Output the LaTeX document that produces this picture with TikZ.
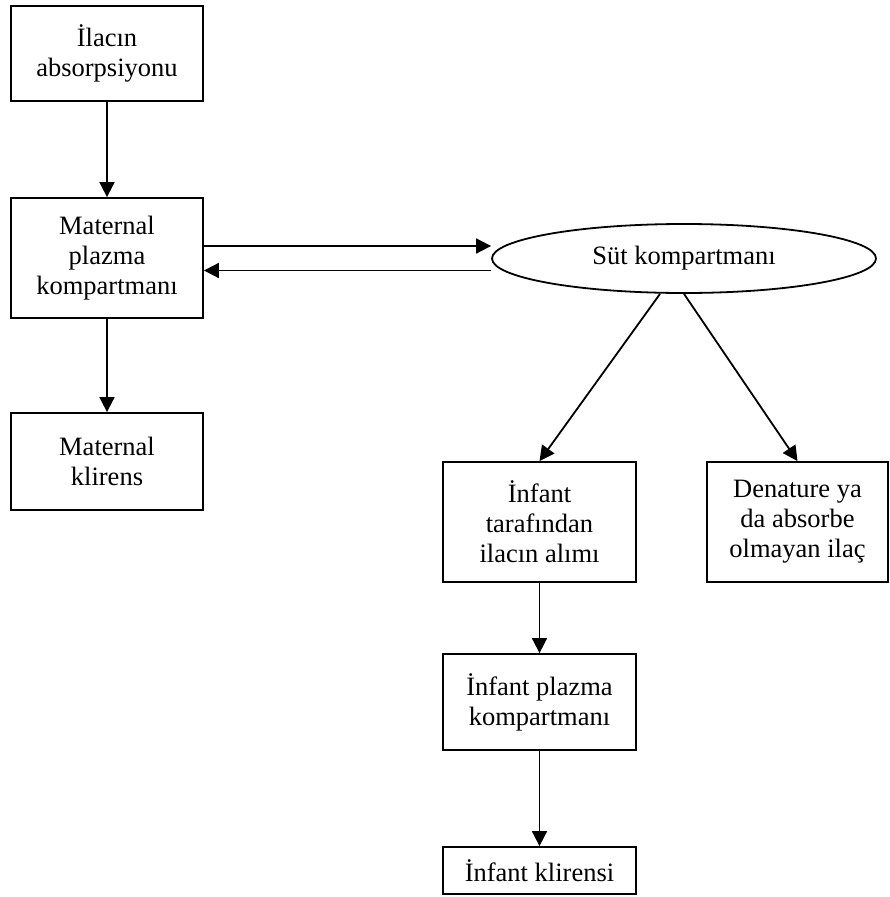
\documentclass[tikz,border=0pt]{standalone}
\usepackage{fontspec}
\setmainfont{Liberation Serif}
\usetikzlibrary{shapes.geometric,arrows.meta,calc}
\tikzset{
  boxnode/.style={draw, line width=1.8pt, rectangle, inner sep=0pt, align=center,
    font=\fontsize{26.5}{30}\selectfont},
  ellnode/.style={draw, line width=1.8pt, ellipse, inner sep=0pt, align=center,
    font=\fontsize{26.5}{30}\selectfont},
  arr/.style={line width=1.8pt, -{Triangle[length=15pt,width=15pt]}}
}
\begin{document}
\begin{tikzpicture}[x=1pt,y=-1pt]
\useasboundingbox (0,0) rectangle (890,897);
\node[boxnode, minimum width=192pt, minimum height=95pt] (b1) at (107,53.5) {İlacın\\absorpsiyonu};
\node[boxnode, minimum width=192pt, minimum height=120pt] (b2) at (107,258) {Maternal\\plazma\\kompartmanı};
\node[boxnode, minimum width=192pt, minimum height=97pt] (b3) at (107,461.5) {Maternal\\klirens};
\node[ellnode, minimum width=384pt, minimum height=69pt] (sut) at (684,258.5) {Süt kompartmanı};
\node[boxnode, minimum width=193pt, minimum height=120pt] (inf) at (539.5,522) {İnfant\\tarafından\\ilacın alımı};
\node[boxnode, minimum width=181pt, minimum height=120pt] (den) at (797.5,522) {Denature ya\\da absorbe\\olmayan ilaç};
\node[boxnode, minimum width=193pt, minimum height=96pt] (pl) at (539.5,702) {İnfant plazma\\kompartmanı};
\node[boxnode, minimum width=193pt, minimum height=47pt] (kl) at (539.5,870.5) {İnfant klirensi};
\coordinate (sl) at ($(sut.south)+(-24,0)$);
\draw[arr] (b1) -- (b2);
\draw[arr] (b2) -- (b3);
\draw[arr] ([yshift=12pt]b2.east) -- ([yshift=12pt]b2.east -| sut.west);
\draw[arr] ([yshift=-12pt]sut.west) -- ([yshift=-12pt]sut.west -| b2.east);
\draw[arr] (sl) -- (inf.north);
\draw[arr] (sut.south) -- (den.north);
\draw[arr] (inf) -- (pl);
\draw[arr] (pl) -- (kl);
\end{tikzpicture}
\end{document}
